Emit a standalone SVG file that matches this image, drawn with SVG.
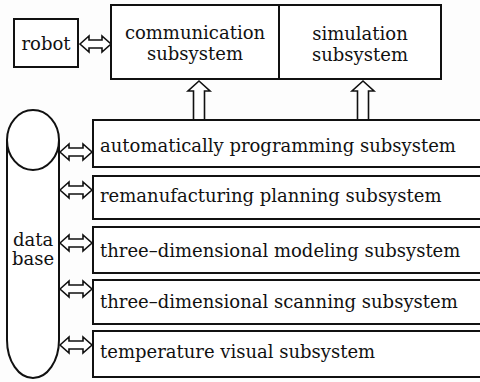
<svg xmlns="http://www.w3.org/2000/svg" width="480" height="382" viewBox="0 0 480 382">
<style>
.b{fill:#fff;stroke:#111;stroke-width:2}
.a{fill:#fff;stroke:#111;stroke-width:1.6;stroke-linejoin:miter}
.t{font-family:'DejaVu Serif','Liberation Serif',serif;font-size:18px;fill:#111}
.c{text-anchor:middle}
</style>
<rect width="480" height="382" fill="#fdfdfd"/>
<g id="connectors">
<path class="a" d="M80,44 L89,36 L89,40 L102,40 L102,36 L111,44 L102,52 L102,48 L89,48 L89,52 Z"/>
<path class="a" d="M199,81 L210,91 L204.5,91 L204.5,120 L193.5,120 L193.5,91 L188,91 Z"/>
<path class="a" d="M363,81 L374,91 L368.5,91 L368.5,120 L357.5,120 L357.5,91 L352,91 Z"/>
<path class="a" d="M60,152 L69,144 L69,148 L83,148 L83,144 L92,152 L83,160 L83,156 L69,156 L69,160 Z"/>
<path class="a" d="M60,190 L69,182 L69,186 L83,186 L83,182 L92,190 L83,198 L83,194 L69,194 L69,198 Z"/>
<path class="a" d="M60,243 L69,235 L69,239 L83,239 L83,235 L92,243 L83,251 L83,247 L69,247 L69,251 Z"/>
<path class="a" d="M60,289 L69,281 L69,285 L83,285 L83,281 L92,289 L83,297 L83,293 L69,293 L69,297 Z"/>
<path class="a" d="M60,345 L69,337 L69,341 L83,341 L83,337 L92,345 L83,353 L83,349 L69,349 L69,353 Z"/>
</g>
<g id="robot">
<rect class="b" x="14" y="19" width="64" height="48"/>
<text class="t c" x="46" y="50" font-family="DejaVu Serif">robot</text>
</g>
<g id="communication">
<rect class="b" x="111" y="5" width="168" height="74"/>
<text class="t c" x="195" y="39" font-family="DejaVu Serif">communication</text>
<text class="t c" x="195" y="60" font-family="DejaVu Serif">subsystem</text>
</g>
<g id="simulation">
<rect class="b" x="279" y="5" width="162" height="74"/>
<text class="t c" x="360" y="40" font-family="DejaVu Serif">simulation</text>
<text class="t c" x="360" y="61" font-family="DejaVu Serif">subsystem</text>
</g>
<g id="database">
<path class="b" d="M7,140 L7,340 A26,38 0 0 0 59,340 L59,140"/>
<ellipse class="b" cx="33" cy="140" rx="26" ry="30"/>
<text class="t c" x="33" y="246" font-family="DejaVu Serif">data</text>
<text class="t c" x="33" y="265" font-family="DejaVu Serif">base</text>
</g>
<g id="auto">
<rect class="b" x="93" y="120" width="400" height="47"/>
<text class="t" x="100" y="152" font-family="DejaVu Serif">automatically programming subsystem</text>
</g>
<g id="reman">
<rect class="b" x="93" y="176" width="400" height="43"/>
<text class="t" x="100" y="202" font-family="DejaVu Serif">remanufacturing planning subsystem</text>
</g>
<g id="modeling">
<rect class="b" x="93" y="227" width="400" height="46"/>
<text class="t" x="100" y="257" font-family="DejaVu Serif">three–dimensional modeling subsystem</text>
</g>
<g id="scanning">
<rect class="b" x="93" y="280" width="400" height="44"/>
<text class="t" x="100" y="308" font-family="DejaVu Serif">three–dimensional scanning subsystem</text>
</g>
<g id="temperature">
<rect class="b" x="93" y="331" width="400" height="46"/>
<text class="t" x="100" y="358" font-family="DejaVu Serif">temperature visual subsystem</text>
</g>
</svg>
